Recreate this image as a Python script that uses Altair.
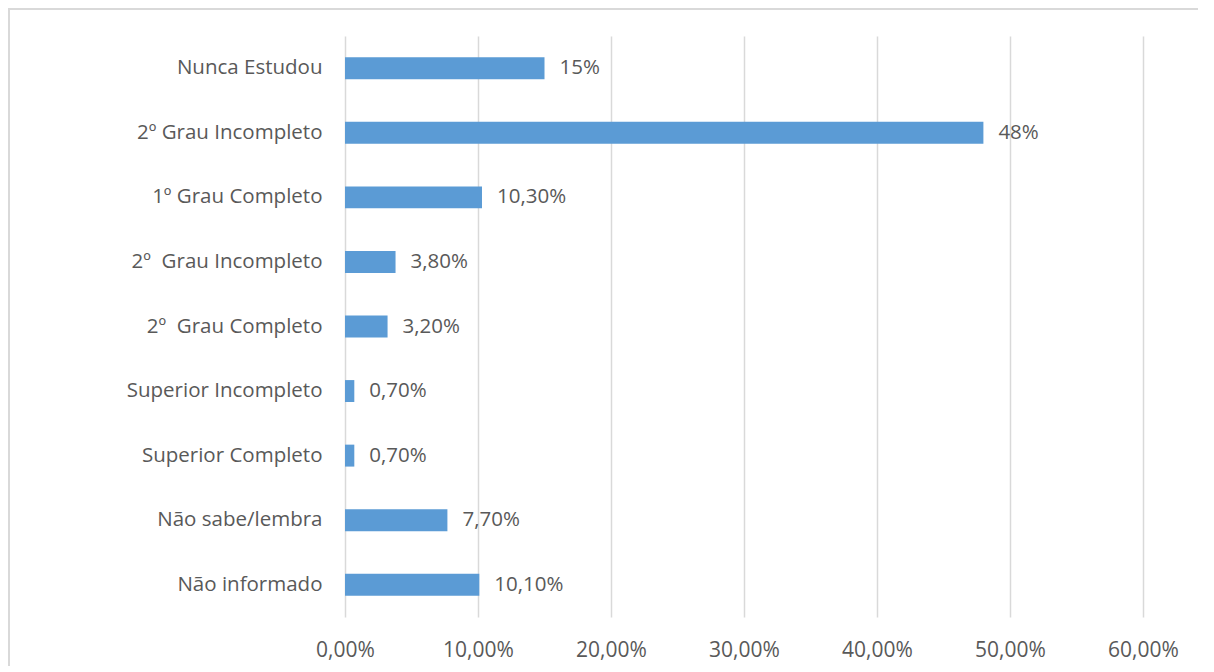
import altair as alt
import pandas as pd

categories = [
    "Nunca Estudou",
    "2º Grau Incompleto",
    "1º Grau Completo",
    "2º\u00a0 Grau Incompleto",
    "2º\u00a0 Grau Completo",
    "Superior Incompleto",
    "Superior Completo",
    "Não sabe/lembra",
    "Não informado",
]
values = [15, 48, 10.3, 3.8, 3.2, 0.7, 0.7, 7.7, 10.1]
labels = ["15%", "48%", "10,30%", "3,80%", "3,20%", "0,70%", "0,70%", "7,70%", "10,10%"]
tick_values = [0, 10, 20, 30, 40, 50, 60]

df = pd.DataFrame({"cat": categories, "val": values, "label": labels})

FONT = "Open Sans"
TXT = "#595959"

y_enc = alt.Y(
    "cat:N",
    sort=categories,
    scale=alt.Scale(paddingInner=0.66, paddingOuter=0.33),
    axis=alt.Axis(
        title=None, ticks=False, domain=False, labelPadding=23,
        labelFont=FONT, labelFontSize=20.5, labelColor=TXT, labelLimit=400,
    ),
)
x_enc = alt.X(
    "val:Q",
    scale=alt.Scale(domain=[0, 60], nice=False),
    axis=alt.Axis(
        title=None, values=tick_values, ticks=False, domain=False,
        grid=True, gridColor="#d9d9d9", gridWidth=1.5,
        labelFlush=False, labelOverlap=False,
        labelExpr="replace(format(datum.value, '.2f'), '.', ',') + '%'",
        labelPadding=22, labelFont=FONT, labelFontSize=21, labelColor=TXT,
    ),
)

base = alt.Chart(df)
bars = base.mark_bar(color="#5B9BD5").encode(x=x_enc, y=y_enc)
text = base.mark_text(
    align="left", baseline="middle", dx=15, font=FONT, fontSize=20.5, color=TXT
).encode(x="val:Q", y=alt.Y("cat:N", sort=categories), text="label:N")

frame = alt.Chart(pd.DataFrame({"k": [0]})).mark_rect(
    fill=None, stroke="#d9d9d9", strokeWidth=2
).encode(
    x=alt.value(-336), x2=alt.value(900), y=alt.value(-27), y2=alt.value(700)
)

chart = alt.layer(bars, text, frame).properties(
    width=798,
    height=581,
    background="white",
    autosize=alt.AutoSizeParams(type="none"),
    padding={"left": 337, "top": 28, "right": 55, "bottom": 49},
).configure_view(strokeWidth=0, stroke=None)

chart.save("out.html", embed_options={"renderer": "svg", "actions": False})
